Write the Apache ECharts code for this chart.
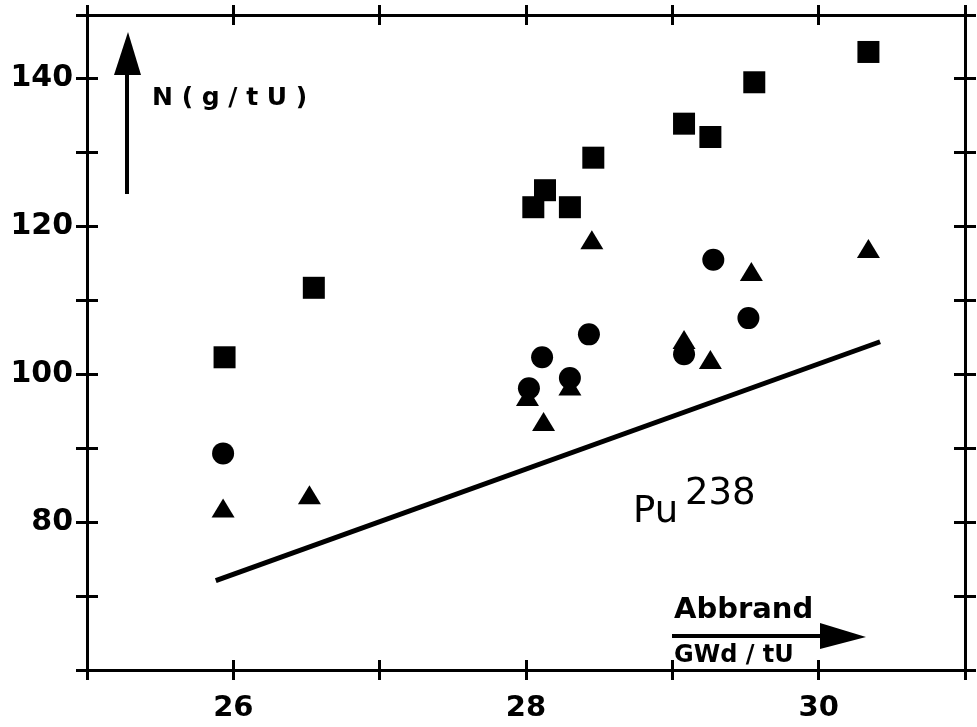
<!DOCTYPE html>
<html>
<head>
<meta charset="utf-8">
<script src="https://cdn.jsdelivr.net/npm/echarts@6/dist/echarts.min.js"></script>
<style>html,body{margin:0;padding:0;background:#fff;}#c{width:977px;height:727px;}</style>
</head>
<body>
<div id="c"></div>
<script>
// ---- data ----
const xMin = 25, xMax = 31, yMin = 60, yMax = 148.6;
const xTickLabels = [26, 28, 30];
const yTickLabels = [80, 100, 120, 140];

const squaresX = [25.94, 26.55, 28.05, 28.13, 28.30, 28.46, 29.08, 29.26, 29.56, 30.34];
const squaresY = [102.3, 111.7, 122.6, 124.9, 122.6, 129.3, 133.9, 132.1, 139.5, 143.6];

const circlesX = [25.93, 28.02, 28.11, 28.30, 28.43, 29.08, 29.28, 29.52];
const circlesY = [89.3, 98.1, 102.3, 99.5, 105.4, 102.7, 115.5, 107.6];

const trianglesX = [25.93, 26.52, 28.01, 28.12, 28.30, 28.45, 29.08, 29.26, 29.54, 30.34];
const trianglesY = [81.9, 83.7, 97.0, 93.6, 98.4, 118.2, 104.7, 102.0, 113.9, 117.0];

const lineX = [25.88, 30.42];
const lineY = [72.1, 104.4];

const zip = (a, b) => a.map((v, i) => [v, b[i]]);

const FONT = 'DejaVu Sans';
const ink = '#000';

function xAxisDef(pos, inside, labels) {
  return {
    type: 'value', position: pos, min: xMin, max: xMax, interval: 1,
    axisLine: { show: true, onZero: false, lineStyle: { color: ink, width: 3 } },
    axisTick: { show: true, inside: inside, length: 10, lineStyle: { color: ink, width: 3 } },
    splitLine: { show: false },
    axisLabel: {
      show: labels, margin: 24, color: ink, fontFamily: FONT, fontWeight: 'bold', fontSize: 29,
      formatter: v => (xTickLabels.indexOf(Math.round(v)) >= 0 && Math.abs(v - Math.round(v)) < 1e-6) ? String(Math.round(v)) : ''
    }
  };
}
function yAxisDef(pos, inside, labels) {
  return {
    type: 'value', position: pos, min: yMin, max: yMax, interval: 10,
    axisLine: { show: true, onZero: false, lineStyle: { color: ink, width: 3 } },
    axisTick: { show: true, inside: inside, length: 11, lineStyle: { color: ink, width: 3 } },
    splitLine: { show: false },
    axisLabel: {
      show: labels, margin: 14, color: ink, fontFamily: FONT, fontWeight: 'bold', fontSize: 30,
      formatter: v => (yTickLabels.indexOf(Math.round(v)) >= 0) ? String(Math.round(v)) : ''
    }
  };
}

const chart = echarts.init(document.getElementById('c'), null, { renderer: 'canvas' });
chart.setOption({
  animation: false,
  backgroundColor: '#fff',
  grid: { left: 87, right: 12, top: 15, bottom: 57, containLabel: false },
  xAxis: [
    xAxisDef('bottom', false, true),
    xAxisDef('bottom', true, false),
    xAxisDef('top', false, false),
    xAxisDef('top', true, false)
  ],
  yAxis: [
    yAxisDef('left', false, true),
    yAxisDef('left', true, false),
    yAxisDef('right', false, false),
    yAxisDef('right', true, false)
  ],
  series: [
    {
      type: 'line', data: zip(lineX, lineY), symbol: 'none',
      lineStyle: { color: ink, width: 5 }, z: 2
    },
    {
      type: 'scatter', data: zip(trianglesX, trianglesY), symbol: 'triangle', symbolSize: [23, 19],
      itemStyle: { color: ink, opacity: 1 }, z: 3
    },
    {
      type: 'scatter', data: zip(circlesX, circlesY), symbol: 'circle', symbolSize: 22,
      itemStyle: { color: ink, opacity: 1 }, z: 4
    },
    {
      type: 'scatter', data: zip(squaresX, squaresY), symbol: 'rect', symbolSize: 22,
      itemStyle: { color: ink, opacity: 1 }, z: 4
    }
  ],
  graphic: [
    // vertical arrow (y quantity)
    { type: 'line', shape: { x1: 127, y1: 194, x2: 127, y2: 70 }, style: { stroke: ink, lineWidth: 4 } },
    { type: 'polygon', shape: { points: [[114, 75], [141, 75], [128, 32]] }, style: { fill: ink } },
    { type: 'text', left: 152, top: 86, style: { text: 'N ( g / t U )', font: 'bold 25px "DejaVu Sans"', fill: ink } },
    // horizontal arrow (x quantity)
    { type: 'line', shape: { x1: 672, y1: 636, x2: 830, y2: 636 }, style: { stroke: ink, lineWidth: 4 } },
    { type: 'polygon', shape: { points: [[820, 623], [820, 649], [866, 637]] }, style: { fill: ink } },
    { type: 'text', left: 674, top: 596, style: { text: 'Abbrand', font: 'bold 29px "DejaVu Sans"', fill: ink } },
    { type: 'text', left: 674, top: 644, style: { text: 'GWd / tU', font: 'bold 24px "DejaVu Sans"', fill: ink } },
    // Pu-238 label
    { type: 'text', left: 633, top: 494, style: { text: 'Pu', font: '37px "DejaVu Sans"', fill: ink } },
    { type: 'text', left: 685, top: 476, style: { text: '238', font: '37px "DejaVu Sans"', fill: ink } }
  ]
});
</script>
</body>
</html>
